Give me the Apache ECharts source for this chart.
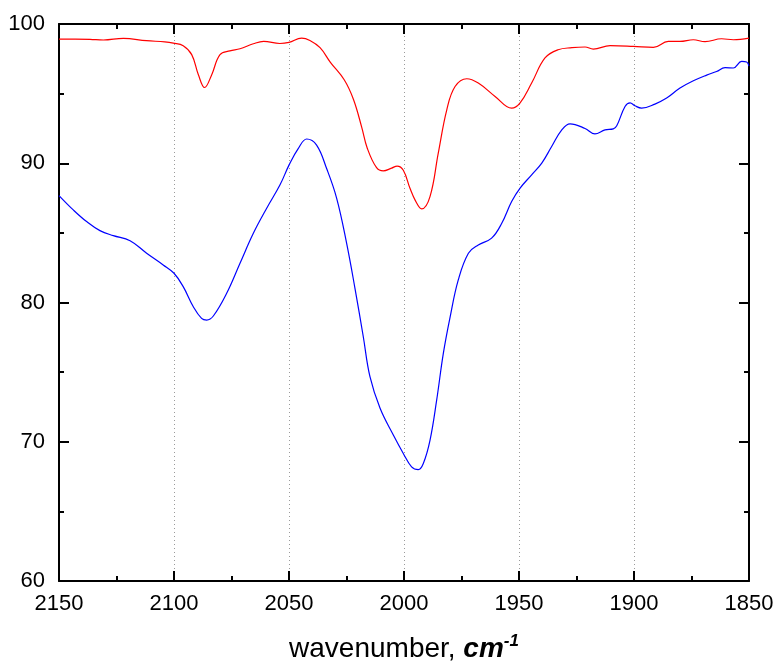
<!DOCTYPE html>
<html>
<head>
<meta charset="utf-8">
<script src="https://cdn.jsdelivr.net/npm/echarts@6/dist/echarts.min.js"></script>
<style>html,body{margin:0;padding:0;background:#fff}#c{width:779px;height:664px}</style>
</head>
<body>
<div id="c"></div>
<script>
const xTicks = [2150, 2100, 2050, 2000, 1950, 1900, 1850];
const yTicks = [60, 70, 80, 90, 100];

const redWn = [2150, 2143, 2136.5, 2130.7, 2122, 2112, 2104, 2100.3, 2096, 2092.3, 2089.4, 2086.7, 2083.6, 2080, 2075.7, 2071.3, 2065.5, 2061, 2054, 2050, 2044.5, 2040.9, 2036.5, 2032, 2026, 2022, 2018.4, 2016, 2012, 2009, 2005.4, 2003, 2000.3, 1997.4, 1995, 1992.3, 1988.7, 1985.1, 1981.4, 1977.8, 1972.7, 1967.7, 1960.4, 1953.2, 1949.6, 1944.5, 1938.7, 1933, 1927, 1921.3, 1917.7, 1910.4, 1900.3, 1891.6, 1885.1, 1880, 1874.2, 1869.1, 1861.9, 1856.8, 1850];
const redT = [98.92, 98.92, 98.9, 98.85, 98.97, 98.8, 98.72, 98.63, 98.44, 97.8, 96.36, 95.44, 96.36, 97.8, 98.07, 98.22, 98.58, 98.75, 98.6, 98.68, 98.99, 98.82, 98.3, 97.25, 96.0, 94.6, 92.6, 91.1, 89.7, 89.45, 89.65, 89.8, 89.5, 88.2, 87.3, 86.72, 87.6, 90.73, 93.84, 95.51, 96.07, 95.76, 94.8, 93.96, 94.32, 95.76, 97.56, 98.15, 98.3, 98.35, 98.2, 98.44, 98.39, 98.32, 98.75, 98.75, 98.87, 98.73, 98.94, 98.87, 98.99];

const blueWn = [2150, 2143.8, 2138, 2132.2, 2126.4, 2119.1, 2111.9, 2104.7, 2100, 2096, 2091.6, 2088, 2085.8, 2082.9, 2077.1, 2071.3, 2065.5, 2059.7, 2053.9, 2049.9, 2046, 2042.3, 2038, 2033.6, 2029.3, 2025, 2021.3, 2017.7, 2014.8, 2010.4, 2004.7, 2000.3, 1996.7, 1993.8, 1991.6, 1988.7, 1985.8, 1982.9, 1980, 1976.4, 1972, 1967.7, 1961.9, 1957.5, 1953.2, 1949.6, 1944.5, 1940.1, 1935.8, 1931.4, 1927.8, 1921.3, 1917, 1912.6, 1909, 1907.5, 1903.9, 1901.7, 1899.6, 1896.7, 1890.9, 1885.8, 1880, 1874.2, 1868.4, 1864.1, 1860.4, 1856.8, 1853.2, 1851, 1850];
const blueT = [87.68, 86.65, 85.81, 85.16, 84.8, 84.44, 83.54, 82.7, 82.1, 81.14, 79.7, 78.86, 78.74, 79.03, 80.66, 82.82, 84.97, 86.77, 88.45, 89.9, 91.05, 91.74, 91.3, 89.6, 87.5, 84.3, 81.0, 77.54, 74.67, 72.4, 70.5, 69.16, 68.2, 68.0, 68.44, 70.1, 72.99, 76.35, 78.92, 81.62, 83.54, 84.13, 84.62, 85.69, 87.25, 88.2, 89.17, 90.01, 91.2, 92.4, 92.83, 92.5, 92.11, 92.4, 92.47, 92.69, 94.08, 94.34, 94.13, 93.96, 94.25, 94.68, 95.4, 95.92, 96.33, 96.59, 96.86, 96.84, 97.31, 97.27, 96.97];

const zip = (a, b) => a.map((v, i) => [v, b[i]]);
const FONT = '"Liberation Sans", Arial, sans-serif';

const xMin = xTicks[xTicks.length - 1], xMax = xTicks[0];
const yMin = yTicks[0], yMax = yTicks[yTicks.length - 1];

const axisLineStyle = { color: '#000', width: 2 };
const baseX = {
  type: 'value', min: xMin, max: xMax, interval: 50, inverse: true,
  axisLine: { show: true, onZero: false, lineStyle: axisLineStyle },
  axisTick: { show: true, inside: true, length: 10, lineStyle: { color: '#000', width: 2 } },
  minorTick: { show: true, splitNumber: 2, length: 5, lineStyle: { color: '#000', width: 2 } },
};
const baseY = {
  type: 'value', min: yMin, max: yMax, interval: 10,
  axisLine: { show: true, onZero: false, lineStyle: axisLineStyle },
  axisTick: { show: true, inside: true, length: 10, lineStyle: { color: '#000', width: 2 } },
  minorTick: { show: true, splitNumber: 2, length: 5, lineStyle: { color: '#000', width: 2 } },
  splitLine: { show: false }
};

const chart = echarts.init(document.getElementById('c'), null, { renderer: 'canvas' });
chart.setOption({
  animation: false,
  backgroundColor: '#fff',
  grid: { left: 59, right: 30, top: 24, bottom: 83, containLabel: false, outerBoundsMode: 'none' },
  xAxis: [
    Object.assign({}, baseX, {
      position: 'bottom',
      axisLabel: { show: true, color: '#000', fontSize: 22, fontFamily: FONT, margin: 12,
        showMinLabel: true, showMaxLabel: true, formatter: v => String(v) },
      splitLine: { show: true, lineStyle: { color: '#9a9a9a', width: 1, type: [1, 3] } },
      name: '{a|wavenumber, }{b|cm}{c|-1}',
      nameLocation: 'middle',
      nameGap: 52,
      nameTextStyle: {
        rich: {
          a: { fontSize: 28, fontFamily: FONT, color: '#000', lineHeight: 32 },
          b: { fontSize: 28, fontFamily: FONT, color: '#000', fontWeight: 'bold', fontStyle: 'italic', lineHeight: 32 },
          c: { fontSize: 17, fontFamily: FONT, color: '#000', fontWeight: 'bold', fontStyle: 'italic', verticalAlign: 'top', lineHeight: 18 }
        }
      }
    }),
    Object.assign({}, baseX, {
      position: 'top',
      axisLabel: { show: false },
      splitLine: { show: false }
    })
  ],
  yAxis: [
    Object.assign({}, baseY, {
      position: 'left',
      axisLabel: { show: true, color: '#000', fontSize: 22, fontFamily: FONT, margin: 14, formatter: v => String(v) }
    }),
    Object.assign({}, baseY, {
      position: 'right',
      axisLabel: { show: false }
    })
  ],
  series: [
    {
      type: 'line', name: 'red', xAxisIndex: 0, yAxisIndex: 0,
      data: zip(redWn, redT), showSymbol: false, smooth: 0.4,
      lineStyle: { color: '#ff0000', width: 1.2 }, clip: true
    },
    {
      type: 'line', name: 'blue', xAxisIndex: 0, yAxisIndex: 0,
      data: zip(blueWn, blueT), showSymbol: false, smooth: 0.4,
      lineStyle: { color: '#0000ff', width: 1.2 }, clip: true
    }
  ]
});
</script>
</body>
</html>
